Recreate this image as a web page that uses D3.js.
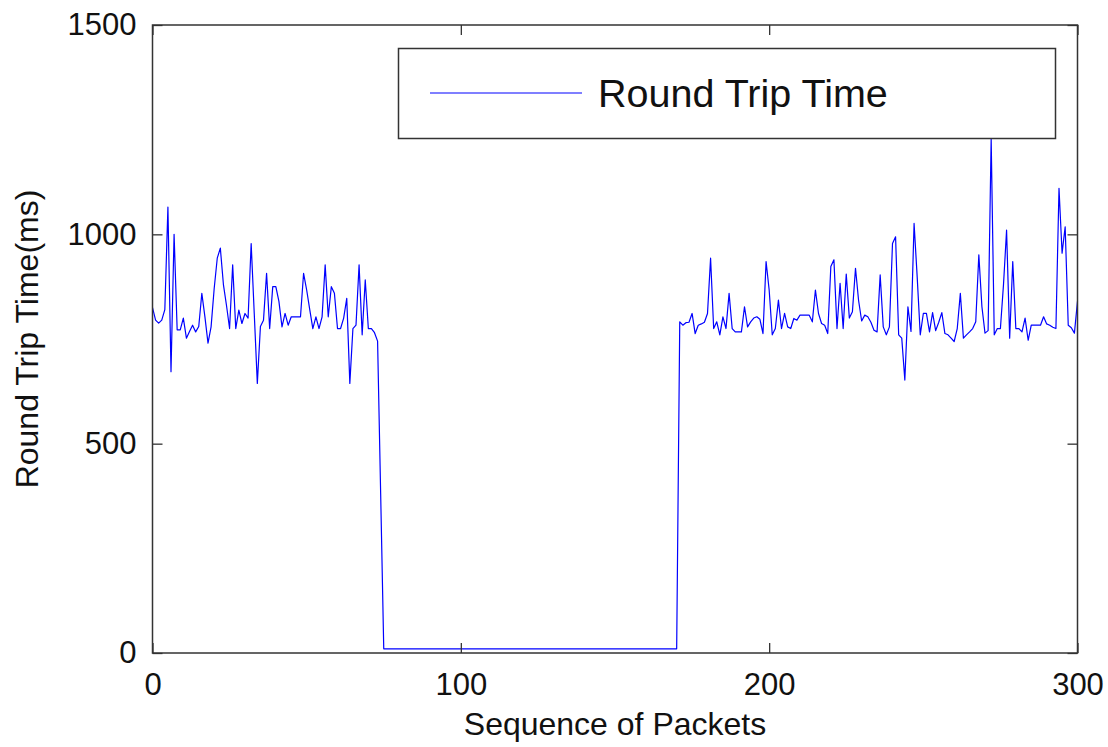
<!DOCTYPE html>
<html>
<head>
<meta charset="utf-8">
<script src="https://cdn.jsdelivr.net/npm/d3@7"></script>
<style>
  html, body { margin: 0; padding: 0; background: #fff; }
  svg text { font-family: "Liberation Sans", Arial, sans-serif; fill: #111; }
</style>
</head>
<body>
<svg id="chart" width="1108" height="747"></svg>
<script>
// Round trip time (ms) per packet sequence number, 0..300
const rttBefore = [
  825, 795, 788, 795, 820, 1065, 672, 1000, 772, 772,
  800, 752, 768, 783, 767, 780, 859, 803, 740, 779,
  870, 943, 967, 880, 830, 775, 927, 775, 819, 787,
  811, 800, 978, 811, 644, 780, 795, 907, 775, 875,
  875, 840, 779, 811, 783, 803, 803, 803, 803, 907,
  867, 820, 775, 803, 775, 803, 927, 803, 875, 859,
  775, 775, 800, 847, 644, 775, 783, 927, 760, 891,
  775, 775, 765, 745, 380
];
const rttOutage = [
  10, 10, 10, 10, 10, 10, 10, 10, 10, 10, 10, 10,
  10, 10, 10, 10, 10, 10, 10, 10, 10, 10, 10, 10,
  10, 10, 10, 10, 10, 10, 10, 10, 10, 10, 10, 10,
  10, 10, 10, 10, 10, 10, 10, 10, 10, 10, 10, 10,
  10, 10, 10, 10, 10, 10, 10, 10, 10, 10, 10, 10,
  10, 10, 10, 10, 10, 10, 10, 10, 10, 10, 10, 10,
  10, 10, 10, 10, 10, 10, 10, 10, 10, 10, 10, 10,
  10, 10, 10, 10, 10, 10, 10, 10, 10, 10, 10, 10
];
const rttAfter = [
  791, 783, 789, 790, 811, 763, 783, 786, 790, 811,
  943, 775, 791, 760, 803, 775, 859, 775, 767, 767,
  767, 827, 779, 791, 800, 803, 797, 763, 935, 867,
  760, 775, 843, 775, 811, 779, 775, 799, 795, 807,
  807, 807, 807, 791, 867, 811, 787, 783, 763, 923,
  939, 775, 883, 775, 905, 800, 815, 919, 842, 793,
  807, 803, 790, 771, 767, 903, 779, 760, 779, 978,
  994, 760, 752, 652, 827, 768, 1026, 899, 760, 811,
  811, 767, 813, 770, 790, 813, 763, 760, 752, 744,
  775, 859, 752, 760, 767, 775, 791, 951, 827, 764,
  770, 1228, 760, 775, 775, 880, 1010, 752, 935, 775,
  775, 767, 800, 747, 783, 783, 783, 783, 803, 786,
  783, 778, 775, 1110, 955, 1018, 783, 777, 764, 840
];
const xTicks = [0, 100, 200, 300];
const yTicks = [0, 500, 1000, 1500];
const seriesName = "Round Trip Time";
const xTitle = "Sequence of Packets";
const yTitle = "Round Trip Time(ms)";

const rtt = rttBefore.concat(rttOutage, rttAfter);
const points = rtt.map((v, i) => ({ seq: i, rtt: v }));

const svg = d3.select("#chart");
const margin = { left: 152.5, right: 30.5, top: 25, bottom: 94 };
const W = 1108, H = 747;
const iw = W - margin.left - margin.right;
const ih = H - margin.top - margin.bottom;

const x = d3.scaleLinear().domain([0, 300]).range([margin.left, margin.left + iw]);
const y = d3.scaleLinear().domain([0, 1500]).range([margin.top + ih, margin.top]);

const axisColor = "#333";
const tickLen = 10;

// white plotting area
svg.append("rect")
  .attr("x", x(0)).attr("y", y(1500))
  .attr("width", iw).attr("height", ih)
  .attr("fill", "#fff");

// data line, clipped to the axes box
svg.append("clipPath").attr("id", "plotClip")
  .append("rect")
  .attr("x", x(0)).attr("y", y(1500) - 2)
  .attr("width", iw + 1).attr("height", ih + 2);

const line = d3.line().x(d => x(d.seq)).y(d => y(d.rtt));
svg.append("path")
  .datum(points)
  .attr("clip-path", "url(#plotClip)")
  .attr("fill", "none")
  .attr("stroke", "#0000ff")
  .attr("stroke-width", 1.2)
  .attr("stroke-linejoin", "round")
  .attr("d", line);

// axes: ticks inward on all four sides, labels on bottom and left
const styleAxis = g => {
  g.select(".domain").remove();
  g.selectAll(".tick line").attr("stroke", axisColor).attr("stroke-width", 1.3);
  g.selectAll(".tick text")
    .style("font-size", "31px")
    .attr("fill", "#111");
};

svg.append("g")
  .attr("transform", `translate(0,${y(0)})`)
  .call(d3.axisBottom(x).tickValues(xTicks).tickSize(-tickLen).tickPadding(20).tickFormat(d3.format("d")))
  .call(styleAxis);

svg.append("g")
  .attr("transform", `translate(0,${y(1500)})`)
  .call(d3.axisTop(x).tickValues(xTicks).tickSize(-tickLen).tickFormat(""))
  .call(styleAxis);

svg.append("g")
  .attr("transform", `translate(${x(0)},0)`)
  .call(d3.axisLeft(y).tickValues(yTicks).tickSize(-tickLen).tickPadding(16).tickFormat(d3.format("d")))
  .call(styleAxis);

svg.append("g")
  .attr("transform", `translate(${x(300)},0)`)
  .call(d3.axisRight(y).tickValues(yTicks).tickSize(-tickLen).tickFormat(""))
  .call(styleAxis);

// axes box
svg.append("rect")
  .attr("x", x(0)).attr("y", y(1500))
  .attr("width", iw).attr("height", ih)
  .attr("fill", "none")
  .attr("stroke", axisColor)
  .attr("stroke-width", 1.5);

// axis titles
svg.append("text")
  .attr("x", x(150)).attr("y", 735)
  .attr("text-anchor", "middle")
  .style("font-size", "32px")
  .text(xTitle);

svg.append("text")
  .attr("transform", `translate(38,${y(750)}) rotate(-90)`)
  .attr("text-anchor", "middle")
  .style("font-size", "32px")
  .text(yTitle);

// legend
const legend = svg.append("g");
legend.append("rect")
  .attr("x", 398.5).attr("y", 48.5)
  .attr("width", 657).attr("height", 90)
  .attr("fill", "#fff")
  .attr("stroke", axisColor)
  .attr("stroke-width", 1.5);
legend.append("line")
  .attr("x1", 430).attr("x2", 582)
  .attr("y1", 93).attr("y2", 93)
  .attr("stroke", "#0000ff")
  .attr("stroke-width", 1.2);
legend.append("text")
  .attr("x", 598).attr("y", 107)
  .style("font-size", "39.5px")
  .text(seriesName);
</script>
</body>
</html>
